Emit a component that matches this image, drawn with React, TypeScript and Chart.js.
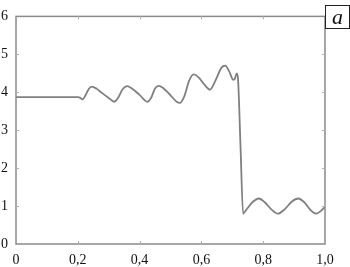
import React, { useEffect, useRef } from 'react';
import { Chart, registerables } from 'chart.js';
Chart.register(...registerables);

const xValues = [
  0, 0.1, 0.2, 0.207, 0.215, 0.225, 0.235, 0.245, 0.26, 0.28, 0.3, 0.318, 0.33, 0.345, 0.36, 0.375,
  0.4, 0.425, 0.437, 0.45, 0.462, 0.475, 0.5, 0.52, 0.53, 0.545, 0.56, 0.575, 0.59, 0.61, 0.628,
  0.645, 0.665, 0.677, 0.69, 0.703, 0.708, 0.714, 0.718, 0.7265, 0.735, 0.745, 0.765, 0.786, 0.805,
  0.828, 0.848, 0.87, 0.893, 0.913, 0.933, 0.955, 0.971, 0.985, 1.0,
];
const yValues = [
  3.87, 3.87, 3.87, 3.86, 3.81, 3.92, 4.08, 4.15, 4.1, 3.97, 3.85, 3.75, 3.85, 4.08, 4.16, 4.1,
  3.93, 3.75, 3.85, 4.1, 4.17, 4.12, 3.92, 3.75, 3.72, 3.9, 4.3, 4.47, 4.4, 4.2, 4.07,
  4.3, 4.65, 4.7, 4.55, 4.33, 4.35, 4.5, 4.4, 2.6, 0.8, 0.9, 1.1, 1.2, 1.1,
  0.9, 0.8, 0.92, 1.12, 1.2, 1.1, 0.88, 0.8, 0.86, 0.98,
];
const xTicks = [0, 0.2, 0.4, 0.6, 0.8, 1.0];
const xTickLabels = ['0', '0,2', '0,4', '0,6', '0,8', '1,0'];
const yTicks = [0, 1, 2, 3, 4, 5, 6];
const yTickLabels = ['0', '1', '2', '3', '4', '5', '6'];
const panelLabel = 'a';

const frameColor = '#8a8a8a';

const framePlugin = {
  id: 'framePlugin',
  afterDraw(chart: any) {
    const { ctx, chartArea } = chart;
    const { left, right, top, bottom } = chartArea;
    const xs = chart.scales.x;
    const ys = chart.scales.y;
    ctx.save();
    ctx.strokeStyle = frameColor;
    ctx.lineWidth = 1.5;
    ctx.strokeRect(left, top, right - left, bottom - top);
    ctx.lineWidth = 1;
    ctx.strokeStyle = '#b0b0b0';
    const tl = 3;
    xTicks.forEach((v) => {
      const px = Math.round(xs.getPixelForValue(v)) + 0.5;
      if (v === 0 || v === 1) return;
      ctx.beginPath();
      ctx.moveTo(px, bottom);
      ctx.lineTo(px, bottom - tl);
      ctx.moveTo(px, top);
      ctx.lineTo(px, top + tl);
      ctx.stroke();
    });
    yTicks.forEach((v) => {
      const py = Math.round(ys.getPixelForValue(v)) + 0.5;
      if (v === 0 || v === 6) return;
      ctx.beginPath();
      ctx.moveTo(left, py);
      ctx.lineTo(left + tl, py);
      ctx.moveTo(right, py);
      ctx.lineTo(right - tl, py);
      ctx.stroke();
    });
    // panel label box
    ctx.strokeStyle = '#222';
    ctx.lineWidth = 1;
    ctx.fillStyle = '#fff';
    const bx = right + 0.5;
    const by = 5.5;
    const bw = 24;
    const bh = 23;
    ctx.fillRect(bx, by, bw, bh);
    ctx.strokeRect(bx, by, bw, bh);
    ctx.fillStyle = '#111';
    ctx.font = 'italic 22px "Liberation Serif", "DejaVu Serif", serif';
    ctx.textAlign = 'center';
    ctx.textBaseline = 'alphabetic';
    ctx.fillText(panelLabel, bx + bw / 2, by + 18);
    ctx.restore();
  },
};

export default function App() {
  const ref = useRef<HTMLCanvasElement | null>(null);
  useEffect(() => {
    if (!ref.current) return;
    const data = xValues.map((x, i) => ({ x, y: yValues[i] }));
    const font = { family: '"Liberation Serif", "DejaVu Serif", serif', size: 14 };
    const chart = new Chart(ref.current, {
      type: 'line',
      data: {
        datasets: [
          {
            data,
            borderColor: '#808080',
            borderWidth: 1.8,
            pointRadius: 0,
            cubicInterpolationMode: 'monotone',
            fill: false,
          },
        ],
      },
      options: {
        animation: false,
        responsive: false,
        devicePixelRatio: 1,
        layout: { padding: { top: 4, right: 25, left: 0, bottom: 0 } },
        plugins: { legend: { display: false }, tooltip: { enabled: false } },
        scales: {
          x: {
            type: 'linear',
            min: 0,
            max: 1,
            afterBuildTicks: (scale: any) => {
              scale.ticks = xTicks.map((v) => ({ value: v }));
            },
            afterFit: (scale: any) => {
              scale.height = 23;
            },
            ticks: {
              font,
              color: '#111',
              padding: 8,
              maxRotation: 0,
              autoSkip: false,
              callback: (v: any) => {
                const i = xTicks.findIndex((t) => Math.abs(t - Number(v)) < 1e-9);
                return i >= 0 ? xTickLabels[i] : '';
              },
            },
            grid: { display: false, drawTicks: false },
            border: { display: false },
          },
          y: {
            type: 'linear',
            min: 0,
            max: 6,
            afterBuildTicks: (scale: any) => {
              scale.ticks = yTicks.map((v) => ({ value: v }));
            },
            afterFit: (scale: any) => {
              scale.width = 16;
            },
            ticks: {
              font,
              color: '#111',
              padding: 8,
              autoSkip: false,
              callback: (v: any) => {
                const i = yTicks.findIndex((t) => Math.abs(t - Number(v)) < 1e-9);
                return i >= 0 ? yTickLabels[i] : '';
              },
            },
            grid: { display: false, drawTicks: false },
            border: { display: false },
          },
        },
      },
      plugins: [framePlugin],
    } as any);
    return () => chart.destroy();
  }, []);
  return (
    <div style={{ position: 'fixed', left: 0, top: 0, width: 350, height: 267, background: '#fff' }}>
      <canvas ref={ref} width={350} height={267} style={{ width: 350, height: 267, display: 'block' }} />
    </div>
  );
}
